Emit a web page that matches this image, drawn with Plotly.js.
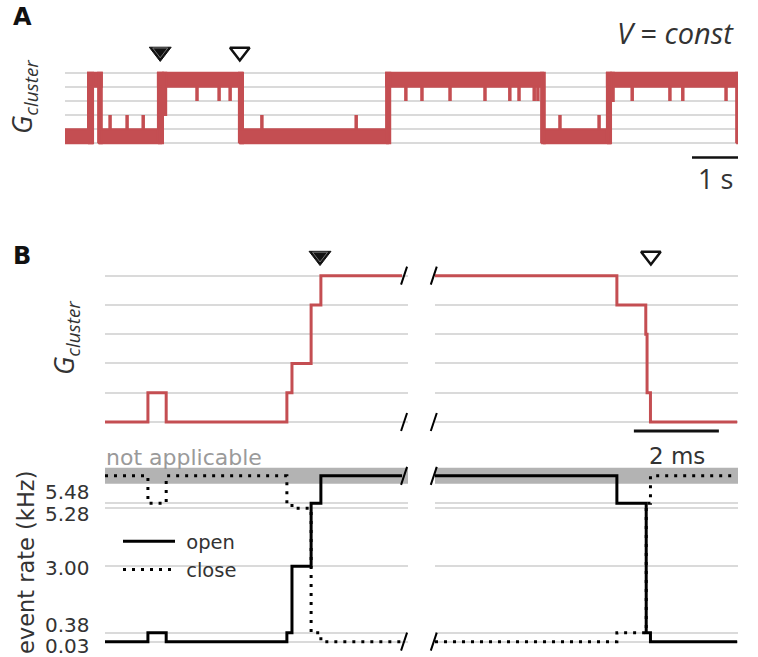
<!DOCTYPE html>
<html>
<head>
<meta charset="utf-8">
<script src="https://cdn.plot.ly/plotly-3.0.1.min.js"></script>
<style>
  html, body { margin: 0; padding: 0; background: #fff; }
  #chart { width: 758px; height: 657px; }
</style>
</head>
<body>
<div id="chart"></div>
<script>
// ---- panel A: long recording (time in s, conductance level 0..5) ----
// flickering periods drawn as filled bands between two levels
var bandStart = [0.00, 0.50, 0.50, 0.72, 0.74, 2.02, 2.02, 2.13, 3.78, 3.80, 6.98, 6.98, 10.35, 10.39, 11.78, 11.78, 11.87, 14.59];
var bandEnd   = [0.59, 0.80, 0.61, 0.80, 2.09, 3.85, 2.13, 2.20, 3.87, 7.02, 10.39, 7.07, 10.43, 11.85, 14.61, 11.87, 11.93, 14.61];
var bandLow   = [0, 4, 0, 0, 0, 4, 0, 2, 0, 0, 4, 0, 0, 0, 4, 0, 3, 0];
var bandHigh  = [1, 5, 5, 5, 1, 5, 5, 5, 5, 1, 5, 5, 5, 1, 5, 5, 5, 5];
var downSpikes = [2.87, 3.35, 3.59, 7.41, 7.76, 8.37, 9.13, 9.67, 9.87, 10.20, 10.28, 12.33, 13.15, 13.43, 14.37];
var upSpikes   = [0.98, 1.35, 1.70, 4.28, 6.33, 10.76, 11.61];
var markA = {open: 2.07, close: 3.80};
var scaleA = [13.63, 14.63];   // 1 s

// ---- panel B: zoom on the transitions (time in ms) ----
var gLeftT     = [0, 1.01, 1.44, 4.28, 4.40, 4.85, 5.08, 6.99];
var gLeftLevel = [0, 1, 0, 1, 2, 4, 5, 5];
var gRightT     = [0, 4.28, 4.96, 4.99, 5.07, 7.11];
var gRightLevel = [5, 4, 3, 1, 0, 0];
var markB = {open: 5.06, close: 5.08};
var scaleB = [4.68, 6.68];     // 2 ms

// event rates (kHz); NA = not applicable
var NA = 'NA';
var rateLeftT   = [0, 1.01, 1.44, 4.28, 4.40, 4.85, 5.08, 6.99];
var openLeft    = [0.03, 0.38, 0.03, 0.38, 3.00, 5.48, NA, NA];
var closeLeft   = [NA, 5.48, NA, 5.48, 5.28, 0.38, 0.03, 0.03];
var rateRightT  = [0, 4.28, 4.97, 5.07, 7.11];
var openRight   = [NA, 5.48, 0.38, 0.03, 0.03];
var closeRight  = [0.03, 0.38, 5.48, NA, NA];
var rateTicks   = [0.03, 0.38, 3.00, 5.28, 5.48];
var rateTickText = ['0.03', '0.38', '3.00', '5.28', '5.48'];

// ---- drawing ----
var RED = '#c44e52';
var GRID = '#dadada';
var naBand = [6.25, 6.88];
var naY = 6.56;
var xRangeA = [0, 14.63];
var xRangeB = [0, 7.13];
var levelRangeA = [-1.3, 7.0];
var levelRangeB = [-0.5, 6.1];
var rateRange = [-0.4, 7.0];

function rate(v) { return v === NA ? naY : v; }

function bands() {
  var x = [], y = [];
  for (var i = 0; i < bandStart.length; i++) {
    x.push(bandStart[i], bandEnd[i], bandEnd[i], bandStart[i], bandStart[i], null);
    y.push(bandLow[i], bandLow[i], bandHigh[i], bandHigh[i], bandLow[i], null);
  }
  return {x: x, y: y};
}
function spikes(ts, from, to) {
  var x = [], y = [];
  ts.forEach(function (t) { x.push(t, t, null); y.push(from, to, null); });
  return {x: x, y: y};
}

var b = bands(), ds = spikes(downSpikes, 4, 3), us = spikes(upSpikes, 1, 2);
var filledTri = {symbol: 'triangle-down', size: 19, color: '#111', line: {color: '#111', width: 1}};
var innerTri = {symbol: 'triangle-down-open', size: 13, color: '#888', line: {width: 0.8}};
var openTri = {symbol: 'triangle-down-open', size: 17, color: '#111', line: {width: 2.5}};

var data = [
  {x: b.x, y: b.y, xaxis: 'x', yaxis: 'y', mode: 'lines', fill: 'toself', fillcolor: RED,
   line: {color: RED, width: 2}, showlegend: false, hoverinfo: 'skip'},
  {x: ds.x, y: ds.y, xaxis: 'x', yaxis: 'y', mode: 'lines', line: {color: RED, width: 3.5}, showlegend: false, hoverinfo: 'skip'},
  {x: us.x, y: us.y, xaxis: 'x', yaxis: 'y', mode: 'lines', line: {color: RED, width: 3.5}, showlegend: false, hoverinfo: 'skip'},
  {x: [markA.open], y: [6.47], xaxis: 'x', yaxis: 'y', mode: 'markers', showlegend: false, marker: filledTri},
  {x: [markA.open], y: [6.52], xaxis: 'x', yaxis: 'y', mode: 'markers', showlegend: false, marker: innerTri},
  {x: [markA.close], y: [6.47], xaxis: 'x', yaxis: 'y', mode: 'markers', showlegend: false, marker: openTri},
  {x: scaleA, y: [-1, -1], xaxis: 'x', yaxis: 'y', mode: 'lines', showlegend: false,
   line: {color: '#111', width: 2.5}},

  {x: gLeftT, y: gLeftLevel, xaxis: 'x2', yaxis: 'y2', mode: 'lines', line: {color: RED, width: 3, shape: 'hv'}, showlegend: false},
  {x: gRightT, y: gRightLevel, xaxis: 'x3', yaxis: 'y3', mode: 'lines', line: {color: RED, width: 3, shape: 'hv'}, showlegend: false},
  {x: [markB.open], y: [5.67], xaxis: 'x2', yaxis: 'y2', mode: 'markers', showlegend: false, marker: filledTri},
  {x: [markB.open], y: [5.69], xaxis: 'x2', yaxis: 'y2', mode: 'markers', showlegend: false, marker: innerTri},
  {x: [markB.close], y: [5.67], xaxis: 'x3', yaxis: 'y3', mode: 'markers', showlegend: false, marker: openTri},
  {x: scaleB, y: [-0.31, -0.31], xaxis: 'x3', yaxis: 'y3', mode: 'lines', cliponaxis: false, showlegend: false,
   line: {color: '#111', width: 3}},

  {x: rateLeftT, y: openLeft.map(rate), xaxis: 'x2', yaxis: 'y4', mode: 'lines', name: '\u00a0open',
   line: {color: '#000', width: 3, shape: 'hv'}},
  {x: rateLeftT, y: closeLeft.map(rate), xaxis: 'x2', yaxis: 'y4', mode: 'lines', name: '\u00a0close',
   line: {color: '#000', width: 3, shape: 'hv', dash: '3px,6px'}},
  {x: rateRightT, y: openRight.map(rate), xaxis: 'x3', yaxis: 'y5', mode: 'lines', showlegend: false,
   line: {color: '#000', width: 3, shape: 'hv'}},
  {x: rateRightT, y: closeRight.map(rate), xaxis: 'x3', yaxis: 'y5', mode: 'lines', showlegend: false,
   line: {color: '#000', width: 3, shape: 'hv', dash: '3px,6px'}}
];

function xAx(domain, range, anchor) {
  return {domain: domain, range: range, anchor: anchor, showgrid: false, zeroline: false,
          showticklabels: false, ticks: '', showline: false, fixedrange: true};
}
function yAx(domain, range, anchor, tickvals) {
  return {domain: domain, range: range, anchor: anchor, tickvals: tickvals, showgrid: true,
          gridcolor: GRID, gridwidth: 2, zeroline: false, showticklabels: false, ticks: '',
          showline: false, fixedrange: true};
}
var levels = [0, 1, 2, 3, 4, 5];

function frac(v, r) { return (v - r[0]) / (r[1] - r[0]); }
function brk(ax, ay, xd, yd) {
  return {type: 'line', xref: ax + ' domain', yref: ay + ' domain', xsizemode: 'pixel', ysizemode: 'pixel',
          xanchor: xd, yanchor: yd, x0: -3, x1: 3, y0: -9, y1: 9, line: {color: '#000', width: 2}};
}
var leftEnd = 0.987, rightStart = -0.004;
var shapes = [
  {type: 'rect', xref: 'x2', yref: 'y4', x0: xRangeB[0], x1: xRangeB[1], y0: naBand[0], y1: naBand[1],
   fillcolor: '#b3b3b3', line: {width: 0}, layer: 'between'},
  {type: 'rect', xref: 'x3', yref: 'y5', x0: xRangeB[0], x1: xRangeB[1], y0: naBand[0], y1: naBand[1],
   fillcolor: '#b3b3b3', line: {width: 0}, layer: 'between'},
  brk('x2', 'y2', leftEnd, frac(5, levelRangeB)), brk('x2', 'y2', leftEnd, frac(0, levelRangeB)),
  brk('x3', 'y3', rightStart, frac(5, levelRangeB)), brk('x3', 'y3', rightStart, frac(0, levelRangeB)),
  brk('x2', 'y4', leftEnd, frac(naY, rateRange)), brk('x2', 'y4', leftEnd, frac(0.03, rateRange)),
  brk('x3', 'y5', rightStart, frac(naY, rateRange)), brk('x3', 'y5', rightStart, frac(0.03, rateRange))
];

var TXT = '#333';
var annotations = [
  {text: '<b>A</b>', x: 22 / 758, y: 1 - 17 / 657, font: {size: 24, color: '#111'}},
  {text: '<b>B</b>', x: 22 / 758, y: 1 - 256 / 657, font: {size: 24, color: '#111'}},
  {text: '<i>V</i> = <i>const</i>', x: 736 / 758, y: 1 - 32 / 657, xanchor: 'right',
   font: {family: 'Open Sans', size: 29, color: TXT}},
  {text: '<i>G<sub>cluster</sub></i>', x: 23 / 758, y: 1 - 97 / 657, textangle: -90,
   font: {family: 'Open Sans', size: 27, color: TXT}},
  {text: '<i>G<sub>cluster</sub></i>', x: 65 / 758, y: 1 - 338 / 657, textangle: -90,
   font: {family: 'Open Sans', size: 27, color: TXT}},
  {text: '1 s', x: 715 / 758, y: 1 - 178 / 657, font: {family: 'Open Sans', size: 27, color: TXT}},
  {text: '2 ms', x: 677 / 758, y: 1 - 456 / 657, font: {size: 23, color: TXT}},
  {text: 'not applicable', x: 104 / 758, y: 1 - 457 / 657, xanchor: 'left', font: {size: 22, color: '#9a9a9a'}},
  {text: 'event rate (kHz)', x: 26 / 758, y: 1 - 563 / 657, textangle: -90, font: {size: 22.5, color: TXT}}
];
annotations.forEach(function (a) {
  a.xref = 'paper'; a.yref = 'paper'; a.showarrow = false;
  if (!a.xanchor) a.xanchor = 'center';
  a.yanchor = 'middle';
});
// tick labels of the rate axis, nudged apart where ticks are close together
var tickNudge = {'0.03': -4, '0.38': 8, '3.00': -2, '5.28': -6, '5.48': 11};
rateTicks.forEach(function (v, i) {
  annotations.push({text: rateTickText[i], xref: 'paper', yref: 'y4', x: 91 / 758, y: v,
    xanchor: 'right', yanchor: 'middle', yshift: tickNudge[rateTickText[i]], showarrow: false,
    borderpad: 0, font: {size: 20, color: TXT}});
});

var layout = {
  width: 758, height: 657,
  margin: {l: 0, r: 0, t: 0, b: 0},
  paper_bgcolor: '#fff', plot_bgcolor: 'rgba(0,0,0,0)',
  font: {family: 'DejaVu Sans', color: TXT},
  showlegend: true,
  legend: {x: 118 / 758, y: 1 - 522 / 657, xanchor: 'left', yanchor: 'top', bgcolor: 'rgba(0,0,0,0)',
           font: {size: 19.5, color: TXT}, traceorder: 'normal', itemwidth: 52},
  xaxis: xAx([65 / 758, 738 / 758], xRangeA, 'y'),
  yaxis: yAx([0.7539, 0.9323], levelRangeA, 'x', levels),
  xaxis2: xAx([105 / 758, 408 / 758], xRangeB, 'y4'),
  xaxis3: xAx([435 / 758, 738 / 758], xRangeB, 'y5'),
  yaxis2: yAx([0.3355, 0.6294], levelRangeB, 'x2', levels),
  yaxis3: yAx([0.3355, 0.6294], levelRangeB, 'x3', levels),
  yaxis4: yAx([0.0067, 0.2927], rateRange, 'x2', rateTicks),
  yaxis5: yAx([0.0067, 0.2927], rateRange, 'x3', rateTicks),
  shapes: shapes,
  annotations: annotations
};

Plotly.newPlot('chart', data, layout, {staticPlot: true});
</script>
</body>
</html>
